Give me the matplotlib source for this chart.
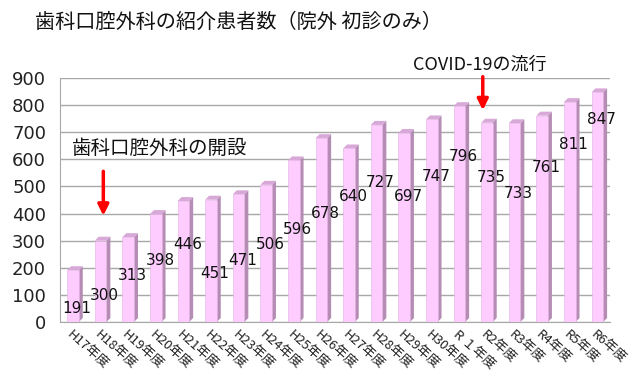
import matplotlib
matplotlib.use("Agg")
import matplotlib.pyplot as plt
from matplotlib.patches import Polygon

plt.rcParams['font.family'] = ['Noto Sans CJK JP', 'DejaVu Sans']

# data
years = ["H17年度", "H18年度", "H19年度", "H20年度", "H21年度", "H22年度", "H23年度",
         "H24年度", "H25年度", "H26年度", "H27年度", "H28年度", "H29年度", "H30年度",
         "R １年度", "R2年度", "R3年度", "R4年度", "R5年度", "R6年度"]
patients = [191, 300, 313, 398, 446, 451, 471, 506, 596, 678,
            640, 727, 697, 747, 796, 735, 733, 761, 811, 847]
yticks = [0, 100, 200, 300, 400, 500, 600, 700, 800, 900]

# where the value labels sit (the original chart puts them at odd heights)
label_y = [51, 99, 173, 228, 286, 180, 228, 286, 342, 400,
           463, 514, 463, 536, 610, 533, 474, 569, 654, 746]

front_color = "#FFCCFF"
side_color = "#B48CB4"
top_color = "#D8A8D8"

fig = plt.figure(figsize=(6.4, 3.79), dpi=100)
ax = fig.add_axes([60 / 640, 57 / 379, 550 / 640, 244 / 379])
ax.set_xlim(-0.47, 19.46)
ax.set_ylim(0, 900)

# depth of the fake 3D in pixels, converted to data units
depth = 4.0
dx = depth * (19.46 + 0.47) / ax.bbox.width
dy = depth * 900 / ax.bbox.height
w = 0.42

x = list(range(len(patients)))
ax.bar(x, patients, width=w, color=front_color, edgecolor="#E0B0E0",
       linewidth=0.4, zorder=3)
for xi, v in zip(x, patients):
    x0, x1 = xi - w / 2, xi + w / 2
    side = Polygon([(x1, 0), (x1 + dx, dy), (x1 + dx, v + dy), (x1, v)],
                   closed=True, facecolor=side_color, edgecolor="none", zorder=2)
    top = Polygon([(x0, v), (x0 + dx, v + dy), (x1 + dx, v + dy), (x1, v)],
                  closed=True, facecolor=top_color, edgecolor="none", zorder=2)
    ax.add_patch(side)
    ax.add_patch(top)

for xi, v, ly in zip(x, patients, label_y):
    ax.text(xi + 0.15, ly, str(v), ha="center", va="center", fontsize=11,
            family="DejaVu Sans", color="#111111", zorder=5)

ax.set_yticks(yticks)
ax.set_yticklabels([str(t) for t in yticks], family="DejaVu Sans", fontsize=13,
                   color="#222222")
ax.yaxis.grid(True, color="#A8A8A8", linewidth=1.0)
ax.set_axisbelow(True)
ax.tick_params(axis="both", length=0)
ax.tick_params(axis="y", pad=10)

ax.set_xticks(x)
ax.set_xticklabels(years, rotation=-42, ha="left", va="top",
                   rotation_mode="anchor", fontsize=9.5, color="#222222")
ax.tick_params(axis="x", pad=4)

for s in ["top", "right"]:
    ax.spines[s].set_visible(False)
ax.spines["left"].set_color("#A8A8A8")
ax.spines["bottom"].set_color("#A8A8A8")

# annotations
ax.text(-0.05, 639, "歯科口腔外科の開設", fontsize=14, ha="left", va="center",
        color="#111111", zorder=6)
ax.annotate("", xy=(1.1, 382), xytext=(1.1, 566),
            arrowprops=dict(arrowstyle="-|>", color="red", lw=2.5,
                            mutation_scale=16), zorder=6)
ax.text(14.75, 950, "COVID-19の流行", fontsize=13, ha="center", va="center",
        color="#111111", clip_on=False, zorder=6)
ax.annotate("", xy=(14.85, 771), xytext=(14.85, 915),
            arrowprops=dict(arrowstyle="-|>", color="red", lw=2.5,
                            mutation_scale=16), annotation_clip=False, zorder=6)

fig.text(35 / 640, 1 - 22 / 379, "歯科口腔外科の紹介患者数（院外 初診のみ）",
         fontsize=14.5, ha="left", va="center", color="#111111")

fig.savefig("out.png", dpi=100)
